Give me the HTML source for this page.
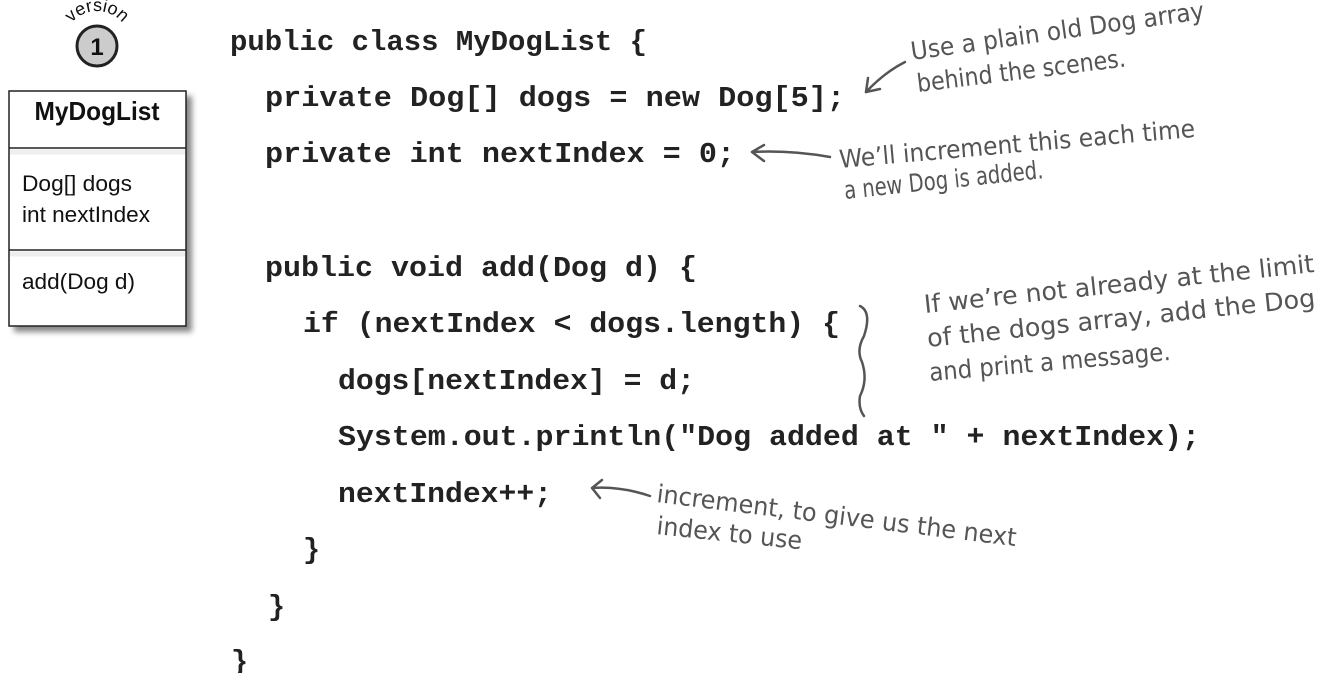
<!DOCTYPE html>
<html><head><meta charset="utf-8"><style>
html,body{margin:0;padding:0;background:#fff}
svg{display:block}
.c{font-family:"Liberation Mono",monospace;font-weight:bold;font-size:28.5px;fill:#222}
.h{font-family:"DejaVu Sans Condensed","DejaVu Sans",sans-serif;font-size:25px;fill:#555}
.u{font-family:"Liberation Sans Narrow","Liberation Sans",sans-serif;fill:#111}
</style></head><body>
<svg width="1318" height="673" viewBox="0 0 1318 673" xmlns="http://www.w3.org/2000/svg">
<defs>
<path id="arc" d="M64,44 A33,33 0 0 1 130,44"/>
<filter id="sh" x="-20%" y="-20%" width="140%" height="140%"><feGaussianBlur stdDeviation="3"/></filter>
</defs>
<text class="u" font-size="18" fill="#333"><textPath href="#arc" startOffset="50%" text-anchor="middle">version</textPath></text>
<circle cx="97" cy="46" r="20" fill="#ccc" stroke="#222" stroke-width="3"/>
<text x="97" y="55" text-anchor="middle" class="u" font-size="24" font-weight="bold">1</text>
<rect x="14" y="96" width="178" height="236" fill="#888" filter="url(#sh)"/>
<rect x="9" y="91" width="177" height="235" fill="#fff" stroke="#222" stroke-width="1.5"/>
<line x1="9" y1="148" x2="186" y2="148" stroke="#222" stroke-width="1.5"/>
<line x1="9" y1="250" x2="186" y2="250" stroke="#222" stroke-width="1.5"/>
<rect x="10" y="149.5" width="175" height="5" fill="#eee"/>
<rect x="10" y="251.5" width="175" height="5" fill="#eee"/>
<text x="97" y="120" text-anchor="middle" class="u" font-size="26" font-weight="bold" textLength="125" lengthAdjust="spacingAndGlyphs">MyDogList</text>
<text x="22" y="191" class="u" font-size="22" textLength="110" lengthAdjust="spacingAndGlyphs">Dog[] dogs</text>
<text x="22" y="222" class="u" font-size="22" textLength="128" lengthAdjust="spacingAndGlyphs">int nextIndex</text>
<text x="22" y="289" class="u" font-size="22" textLength="113" lengthAdjust="spacingAndGlyphs">add(Dog d)</text>
<text class="c" x="230" y="50" textLength="417" lengthAdjust="spacingAndGlyphs">public class MyDogList {</text>
<text class="c" x="265" y="106" textLength="580" lengthAdjust="spacingAndGlyphs">private Dog[] dogs = new Dog[5];</text>
<text class="c" x="265" y="162" textLength="470" lengthAdjust="spacingAndGlyphs">private int nextIndex = 0;</text>
<text class="c" x="265" y="276" textLength="432" lengthAdjust="spacingAndGlyphs">public void add(Dog d) {</text>
<text class="c" x="303" y="332" textLength="537" lengthAdjust="spacingAndGlyphs">if (nextIndex &lt; dogs.length) {</text>
<text class="c" x="338" y="389" textLength="357" lengthAdjust="spacingAndGlyphs">dogs[nextIndex] = d;</text>
<text class="c" x="338" y="445" textLength="862" lengthAdjust="spacingAndGlyphs">System.out.println("Dog added at " + nextIndex);</text>
<text class="c" x="338" y="502" textLength="214" lengthAdjust="spacingAndGlyphs">nextIndex++;</text>
<text class="c" x="303" y="558">}</text>
<text class="c" x="268" y="615">}</text>
<text class="c" x="231" y="670">}</text>
<g stroke="#555" stroke-width="2.5" fill="none" stroke-linecap="round">
<path d="M905,62 Q885,72 866,92"/><path d="M866,92 L880,89 M866,92 L868,78"/>
<path d="M830,157 Q790,150 752,152"/><path d="M752,152 L764,145 M752,152 L764,161"/>
<path d="M860,306 Q872,312 864,336 Q856,350 862,362 Q868,380 860,396 Q858,408 864,416"/>
<path d="M650,496 Q620,486 592,488"/><path d="M592,488 L602,480 M592,488 L600,498"/>
</g>
<g class="h">
<text transform="translate(912,60) rotate(-8)" textLength="296" lengthAdjust="spacingAndGlyphs">Use a plain old Dog array</text>
<text transform="translate(918,92) rotate(-7)" textLength="210" lengthAdjust="spacingAndGlyphs">behind the scenes.</text>
<text transform="translate(840,168) rotate(-5)" textLength="357" lengthAdjust="spacingAndGlyphs">We’ll increment this each time</text>
<text transform="translate(845,199) rotate(-6)" textLength="200" lengthAdjust="spacingAndGlyphs">a new Dog is added.</text>
<text transform="translate(925,313) rotate(-6)" textLength="392" lengthAdjust="spacingAndGlyphs">If we’re not already at the limit</text>
<text transform="translate(928,347) rotate(-6)" textLength="390" lengthAdjust="spacingAndGlyphs">of the dogs array, add the Dog</text>
<text transform="translate(930,381) rotate(-5)" textLength="242" lengthAdjust="spacingAndGlyphs">and print a message.</text>
<text transform="translate(656,502) rotate(7)" textLength="362" lengthAdjust="spacingAndGlyphs">increment, to give us the next</text>
<text transform="translate(656,534) rotate(6)" textLength="146" lengthAdjust="spacingAndGlyphs">index to use</text>
</g>
</svg>
</body></html>
